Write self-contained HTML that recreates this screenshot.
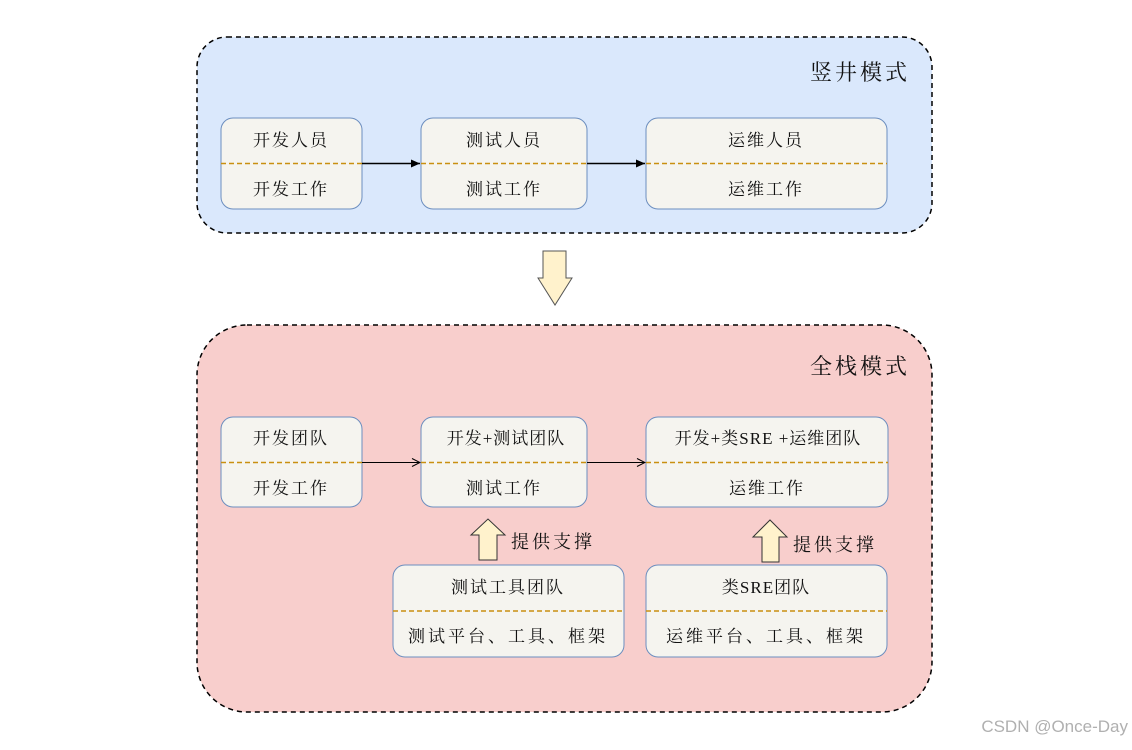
<!DOCTYPE html>
<html><head><meta charset="utf-8"><style>
html,body{margin:0;padding:0;background:#fff;}
svg text{font-family:"Liberation Serif","Noto Serif CJK SC",serif;fill:#111;}
</style></head><body>
<svg width="1132" height="745" viewBox="0 0 1132 745" xmlns="http://www.w3.org/2000/svg">
<defs>
<marker id="ah" markerWidth="10" markerHeight="10" refX="9" refY="5" orient="auto" markerUnits="userSpaceOnUse"><path d="M0,1 L9,5 L0,9 Z" fill="#000"/></marker>
<marker id="ao" markerWidth="10" markerHeight="10" refX="9" refY="5" orient="auto" markerUnits="userSpaceOnUse"><path d="M1,1 L9,5 L1,9" fill="none" stroke="#000" stroke-width="1"/></marker>
</defs>
<rect x="197" y="37" width="735" height="196" rx="30" fill="#dae8fc" stroke="#000" stroke-width="1.5" stroke-dasharray="5,4"/>
<text x="910" y="80" font-size="22" text-anchor="end" letter-spacing="3">竖井模式</text>
<g font-size="17" text-anchor="middle">
<rect x="221" y="118" width="141" height="91" rx="12" fill="#f5f4ef" stroke="#6c8ebf"/>
<line x1="221" y1="163.5" x2="362" y2="163.5" stroke="#c98f10" stroke-width="1.5" stroke-dasharray="5,3"/>
<text x="291" y="146" letter-spacing="2">开发人员</text><text x="291" y="195" letter-spacing="2">开发工作</text>
<rect x="421" y="118" width="166" height="91" rx="12" fill="#f5f4ef" stroke="#6c8ebf"/>
<line x1="421" y1="163.5" x2="587" y2="163.5" stroke="#c98f10" stroke-width="1.5" stroke-dasharray="5,3"/>
<text x="504" y="146" letter-spacing="2">测试人员</text><text x="504" y="195" letter-spacing="2">测试工作</text>
<rect x="646" y="118" width="241" height="91" rx="12" fill="#f5f4ef" stroke="#6c8ebf"/>
<line x1="646" y1="163.5" x2="887" y2="163.5" stroke="#c98f10" stroke-width="1.5" stroke-dasharray="5,3"/>
<text x="766" y="146" letter-spacing="2">运维人员</text><text x="766" y="195" letter-spacing="2">运维工作</text>
</g>
<line x1="362" y1="163.5" x2="420" y2="163.5" stroke="#000" stroke-width="1.5" marker-end="url(#ah)"/>
<line x1="587" y1="163.5" x2="645" y2="163.5" stroke="#000" stroke-width="1.5" marker-end="url(#ah)"/>
<path d="M543,251 L566,251 L566,278 L572,278 L555,305 L538,278 L543,278 Z" fill="#fff2cc" stroke="#555" stroke-width="1"/>
<rect x="197" y="325" width="735" height="387" rx="50" fill="#f8cecc" stroke="#000" stroke-width="1.5" stroke-dasharray="5,4"/>
<text x="910" y="374" font-size="22" text-anchor="end" letter-spacing="3">全栈模式</text>
<g font-size="17" text-anchor="middle">
<rect x="221" y="417" width="141" height="90" rx="12" fill="#f5f4ef" stroke="#6c8ebf"/>
<line x1="221" y1="462.5" x2="362" y2="462.5" stroke="#c98f10" stroke-width="1.5" stroke-dasharray="5,3"/>
<text x="291" y="444" letter-spacing="2">开发团队</text><text x="291" y="494" letter-spacing="2">开发工作</text>
<rect x="421" y="417" width="166" height="90" rx="12" fill="#f5f4ef" stroke="#6c8ebf"/>
<line x1="421" y1="462.5" x2="587" y2="462.5" stroke="#c98f10" stroke-width="1.5" stroke-dasharray="5,3"/>
<text x="506" y="444" letter-spacing="1">开发+测试团队</text><text x="504" y="494" letter-spacing="2">测试工作</text>
<rect x="646" y="417" width="242" height="90" rx="12" fill="#f5f4ef" stroke="#6c8ebf"/>
<line x1="646" y1="462.5" x2="888" y2="462.5" stroke="#c98f10" stroke-width="1.5" stroke-dasharray="5,3"/>
<text x="768" y="444" letter-spacing="1">开发+类SRE +运维团队</text><text x="767" y="494" letter-spacing="2">运维工作</text>
<rect x="393" y="565" width="231" height="92" rx="12" fill="#f5f4ef" stroke="#6c8ebf"/>
<line x1="393" y1="611" x2="624" y2="611" stroke="#c98f10" stroke-width="1.5" stroke-dasharray="5,3"/>
<text x="508" y="593" letter-spacing="2">测试工具团队</text><text x="508" y="642" letter-spacing="3">测试平台、工具、框架</text>
<rect x="646" y="565" width="241" height="92" rx="12" fill="#f5f4ef" stroke="#6c8ebf"/>
<line x1="646" y1="611" x2="887" y2="611" stroke="#c98f10" stroke-width="1.5" stroke-dasharray="5,3"/>
<text x="766" y="593" letter-spacing="1">类SRE团队</text><text x="766" y="642" letter-spacing="3">运维平台、工具、框架</text>
<text x="553" y="548" letter-spacing="3" font-size="18">提供支撑</text>
<text x="835" y="551" letter-spacing="3" font-size="18">提供支撑</text>
</g>
<line x1="362" y1="462.5" x2="420" y2="462.5" stroke="#000" stroke-width="1" marker-end="url(#ao)"/>
<line x1="587" y1="462.5" x2="645" y2="462.5" stroke="#000" stroke-width="1" marker-end="url(#ao)"/>
<path d="M479,560 L497,560 L497,535 L505,535 L488,519 L471,535 L479,535 Z" fill="#fff2cc" stroke="#333" stroke-width="1"/>
<path d="M762,562 L779,562 L779,537 L787,537 L770,520 L753,537 L762,537 Z" fill="#fff2cc" stroke="#333" stroke-width="1"/>
<text x="1128" y="732" font-size="17" text-anchor="end" style="font-family:'Liberation Sans',sans-serif;fill:#b0b0b0">CSDN @Once-Day</text>
</svg>
</body></html>
